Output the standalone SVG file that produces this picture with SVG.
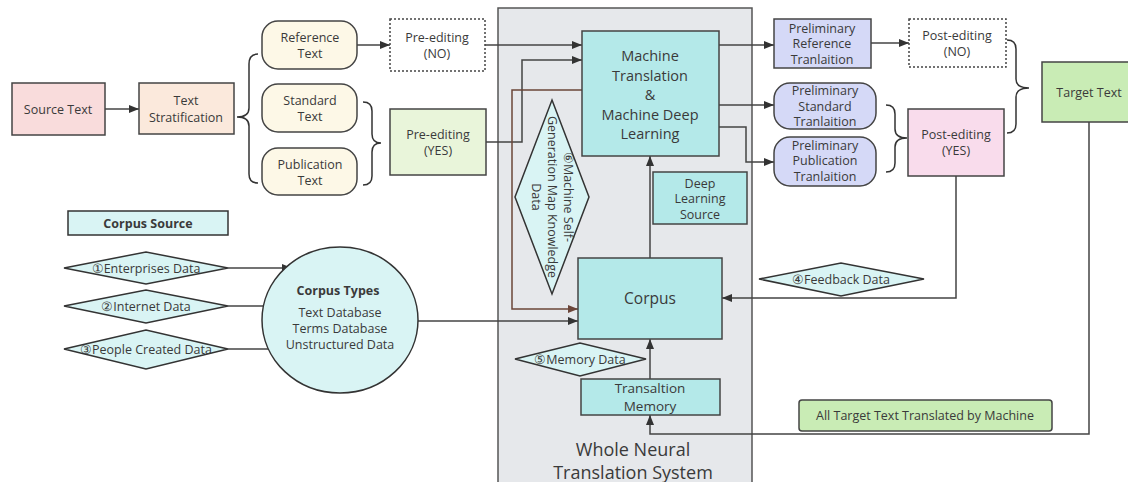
<svg xmlns="http://www.w3.org/2000/svg" width="1128" height="482" viewBox="0 0 1128 482">
<style>
text{font-family:"Open Sans","Noto Sans","Liberation Sans",sans-serif;font-size:12.5px;fill:#3a3a3a;text-anchor:middle;dominant-baseline:central}
.b{stroke:#444;stroke-width:1.5}
.ln{fill:none;stroke:#444;stroke-width:1.5}
.br{fill:none;stroke:#333;stroke-width:1.5}
.bold{font-weight:bold}
.cyan{fill:#b4e9e9;stroke:#444;stroke-width:1.5}
.lc{fill:#d9f4f4;stroke:#333;stroke-width:1.5}
.pv{fill:#d5d9f7;stroke:#444;stroke-width:1.5}
.cream{fill:#fdf8e7;stroke:#444;stroke-width:1.5}
.dot{fill:#fff;stroke:#444;stroke-width:1.5;stroke-dasharray:2 2}
.big{font-size:14.5px}
</style>
<defs>
<marker id="ah" viewBox="0 0 10 8" refX="10" refY="4" markerWidth="10" markerHeight="8" markerUnits="userSpaceOnUse" orient="auto"><path d="M0,0 L10,4 L0,8 z" fill="#333"/></marker>
<marker id="ahb" viewBox="0 0 10 8" refX="10" refY="4" markerWidth="10" markerHeight="8" markerUnits="userSpaceOnUse" orient="auto"><path d="M0,0 L10,4 L0,8 z" fill="#6b4539"/></marker>
</defs>
<rect width="1128" height="482" fill="#fff"/>

<g id="system">
<rect x="498" y="8" width="254" height="485" fill="#e6e8eb" stroke="#555" stroke-width="1.5"/>
<text x="633" y="449" style="font-size:18px">Whole Neural</text>
<text x="633" y="472" style="font-size:18px">Translation System</text>
</g>

<g id="connectors">
<path class="ln" d="M105,109 L139,109" marker-end="url(#ah)"/>
<path class="br" d="M258,54 Q249,54 249,64 L249,108 Q249,117 237,117 Q249,117 249,126 L249,174 Q249,183 258,183"/>
<path class="br" d="M363,102 Q372,102 372,111 L372,134 Q372,143 381,143 Q372,143 372,152 L372,176 Q372,185 363,185"/>
<path class="ln" d="M357,45 L390,45" marker-end="url(#ah)"/>
<path class="ln" d="M485,45 L582,45" marker-end="url(#ah)"/>
<path class="ln" d="M486,142 L522,142 L522,60 L582,60" marker-end="url(#ah)"/>
<path d="M582,90 L512,90 L512,309 L578,309" fill="none" stroke="#6b4539" stroke-width="1.5" marker-end="url(#ahb)"/>
<path class="ln" d="M719,45 L774,45" marker-end="url(#ah)"/>
<path class="ln" d="M719,105 L774,105" marker-end="url(#ah)"/>
<path class="ln" d="M719,127 L746,127 L746,162 L774,162" marker-end="url(#ah)"/>
<path class="ln" d="M871,43 L909,43" marker-end="url(#ah)"/>
<path class="br" d="M886,105 Q895,105 895,114 L895,129 Q895,138 907,138 Q895,138 895,147 L895,163 Q895,172 886,172"/>
<path class="br" d="M1007,40 Q1016,40 1016,49 L1016,79 Q1016,88 1029,88 Q1016,88 1016,97 L1016,124 Q1016,133 1007,133"/>
<path class="ln" d="M650,258 L650,156" marker-end="url(#ah)"/>
<path class="ln" d="M650,379 L650,339" marker-end="url(#ah)"/>
<path class="ln" d="M1089,122 L1089,434 L650,434 L650,415" marker-end="url(#ah)"/>
<path class="ln" d="M956,176 L956,298 L722,298" marker-end="url(#ah)"/>
<path class="ln" d="M228,268 L292,268" marker-end="url(#ah)"/>
<path class="ln" d="M228,306 L289,306" marker-end="url(#ah)"/>
<path class="ln" d="M228,349 L286,349" marker-end="url(#ah)"/>
<path class="ln" d="M418,321 L578,321" marker-end="url(#ah)"/>
</g>

<g id="source-text">
<rect x="12" y="83" width="93" height="52" fill="#f9dcdc" class="b"/>
<text x="58" y="109">Source Text</text>
</g>
<g id="text-stratification">
<rect x="139" y="83" width="95" height="51" fill="#fbe9dc" class="b"/>
<text x="186" y="100">Text</text>
<text x="186" y="117">Stratification</text>
</g>
<g id="reference-text">
<rect x="262" y="21" width="95" height="48" rx="16" class="cream"/>
<text x="310" y="37">Reference</text>
<text x="310" y="53">Text</text>
</g>
<g id="standard-text">
<rect x="262" y="84" width="95" height="48" rx="16" class="cream"/>
<text x="310" y="100">Standard</text>
<text x="310" y="116">Text</text>
</g>
<g id="publication-text">
<rect x="262" y="148" width="95" height="47" rx="16" class="cream"/>
<text x="310" y="164">Publication</text>
<text x="310" y="180">Text</text>
</g>
<g id="pre-editing-no">
<rect x="390" y="19" width="95" height="52" class="dot"/>
<text x="437" y="37">Pre-editing</text>
<text x="437" y="53">(NO)</text>
</g>
<g id="pre-editing-yes">
<rect x="390" y="109" width="96" height="66" fill="#e9f5da" class="b"/>
<text x="438" y="134">Pre-editing</text>
<text x="438" y="150">(YES)</text>
</g>
<g id="machine-translation">
<rect x="582" y="31" width="137" height="125" class="cyan"/>
<text x="650" y="55" class="big">Machine</text>
<text x="650" y="75" class="big">Translation</text>
<text x="650" y="94" class="big">&amp;</text>
<text x="650" y="114" class="big">Machine Deep</text>
<text x="650" y="133" class="big">Learning</text>
</g>
<g id="self-generation-data">
<polygon points="552,100 589,197 552,294 515,197" class="lc"/>
<g transform="translate(552,197) rotate(90)">
<text x="0" y="-16">⑥Machine Self-</text>
<text x="0" y="0">Generation Map Knowledge</text>
<text x="0" y="16">Data</text>
</g>
</g>
<g id="deep-learning-source">
<rect x="653" y="172" width="94" height="52" class="cyan"/>
<text x="700" y="183">Deep</text>
<text x="700" y="198">Learning</text>
<text x="700" y="214">Source</text>
</g>
<g id="corpus">
<rect x="578" y="258" width="144" height="81" class="cyan"/>
<text x="650" y="298" style="font-size:15.5px">Corpus</text>
</g>
<g id="memory-data">
<polygon points="515,359 580,343 646,359 580,376" class="lc"/>
<text x="580" y="359">⑤Memory Data</text>
</g>
<g id="translation-memory">
<rect x="581" y="379" width="139" height="36" class="cyan"/>
<text x="650" y="388" style="font-size:13.5px">Transaltion</text>
<text x="650" y="406" style="font-size:13.5px">Memory</text>
</g>
<g id="prelim-reference">
<rect x="774" y="19" width="97" height="49" class="pv"/>
<text x="822" y="28">Preliminary</text>
<text x="822" y="43">Reference</text>
<text x="822" y="59">Tranlaition</text>
</g>
<g id="prelim-standard">
<rect x="774" y="83" width="102" height="46" rx="16" class="pv"/>
<text x="825" y="90">Preliminary</text>
<text x="825" y="106">Standard</text>
<text x="825" y="121">Tranlaition</text>
</g>
<g id="prelim-publication">
<rect x="774" y="137" width="102" height="49" rx="16" class="pv"/>
<text x="825" y="145">Preliminary</text>
<text x="825" y="160">Publication</text>
<text x="825" y="176">Tranlaition</text>
</g>
<g id="post-editing-no">
<rect x="909" y="19" width="97" height="48" class="dot"/>
<text x="957" y="35">Post-editing</text>
<text x="957" y="51">(NO)</text>
</g>
<g id="post-editing-yes">
<rect x="908" y="109" width="96" height="67" fill="#f9dcec" class="b"/>
<text x="956" y="134">Post-editing</text>
<text x="956" y="150">(YES)</text>
</g>
<g id="target-text">
<rect x="1042" y="62" width="94" height="60" fill="#c9ecb5" class="b"/>
<text x="1089" y="92">Target Text</text>
</g>
<g id="feedback-data">
<polygon points="759,279 841,263 924,279 841,296" class="lc"/>
<text x="841" y="279">④Feedback Data</text>
</g>
<g id="all-target-text">
<rect x="799" y="400" width="253" height="31" rx="3" fill="#c9ecb5" class="b"/>
<text x="925" y="415">All Target Text Translated by Machine</text>
</g>
<g id="corpus-source">
<rect x="68" y="211" width="160" height="24" class="lc"/>
<text x="148" y="223" class="bold">Corpus Source</text>
</g>
<g id="enterprises-data">
<polygon points="64,268 146,252 228,268 146,284" class="lc"/>
<text x="146" y="268">①Enterprises Data</text>
</g>
<g id="internet-data">
<polygon points="64,306 146,290 228,306 146,323" class="lc"/>
<text x="146" y="306">②Internet Data</text>
</g>
<g id="people-data">
<polygon points="64,349 146,330 228,349 146,369" class="lc"/>
<text x="146" y="349">③People Created Data</text>
</g>
<g id="corpus-types">
<ellipse cx="340" cy="320" rx="78" ry="73" class="lc"/>
<text x="338" y="290" class="bold">Corpus Types</text>
<text x="340" y="312">Text Database</text>
<text x="340" y="328">Terms Database</text>
<text x="340" y="344">Unstructured Data</text>
</g>
</svg>
